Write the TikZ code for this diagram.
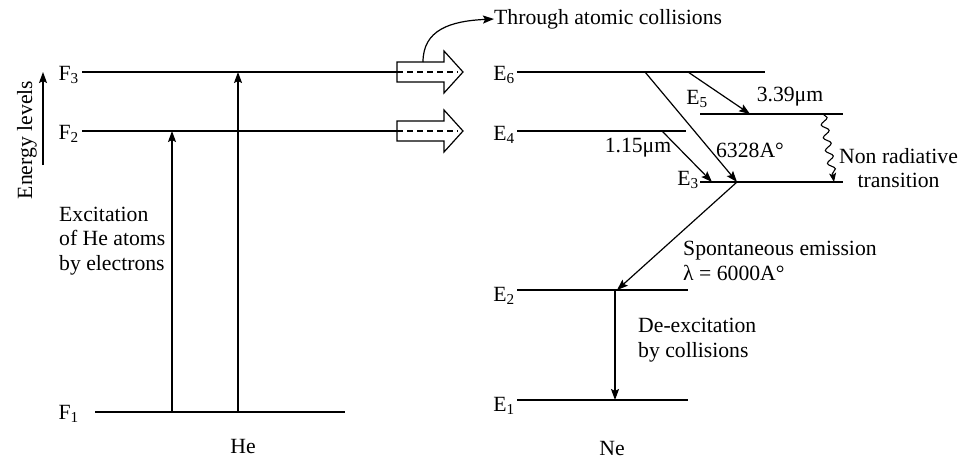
\documentclass[tikz,border=0pt]{standalone}
\usepackage{fontspec}
\setmainfont{Liberation Serif}
\usetikzlibrary{arrows.meta,decorations.pathmorphing}
\begin{document}
\begin{tikzpicture}[x=1pt,y=-1pt,
  lvl/.style={line width=1.3pt},
  arr/.style={line width=1.2pt,-{Stealth[length=11pt,width=8pt,inset=2pt]}},
  lab/.style={inner sep=0pt, font=\fontsize{21.7}{24.5}\selectfont},
  hollow/.style={line width=1.2pt, fill=white},
]
\useasboundingbox (0,0) rectangle (964,461);

% ---------- He side ----------
\coordinate (F3a) at (82,72);  \coordinate (F3b) at (397,72);
\coordinate (F2a) at (82,131); \coordinate (F2b) at (397,131);
\coordinate (F1a) at (95,412); \coordinate (F1b) at (345,412);
\draw[lvl] (F3a) -- (F3b);
\draw[lvl] (F2a) -- (F2b);
\draw[lvl] (F1a) -- (F1b);
\node[lab,anchor=east] (F3) at (79,75) {F\textsubscript{3}};
\node[lab,anchor=east] (F2) at (79,134) {F\textsubscript{2}};
\node[lab,anchor=east] (F1) at (79,414) {F\textsubscript{1}};

\coordinate (h1b) at (172,412); \coordinate (h1t) at (172,131);
\coordinate (h2b) at (238,412); \coordinate (h2t) at (238,72);
\draw[arr] (h1b) -- (h1t);
\draw[arr] (h2b) -- (h2t);

\node[lab,rotate=90] (EL) at (27,140) {Energy levels};
\coordinate (ela) at (43,165); \coordinate (elb) at (43,72);
\draw[arr] (ela) -- (elb);

\node[lab,anchor=west,align=left] (exc) at (59,241) {Excitation\\of He atoms\\by electrons};
\node[lab] (He) at (243,446) {He};

% ---------- hollow arrows ----------
\coordinate (HA1) at (397,72);
\coordinate (HA2) at (397,131);
\foreach \c in {HA1,HA2}{
  \draw[hollow] (\c) ++(0,-10) -- ++(47,0) -- ++(0,-11) -- ++(19,21) -- ++(-19,21) -- ++(0,-11) -- ++(-47,0) -- cycle;
  \draw[line width=1.2pt, dash pattern=on 6pt off 4pt] (\c) -- ++(61,0);
}
\node[lab,anchor=west] (thr) at (494,19) {Through atomic collisions};
\coordinate (cs) at (423,62);
\draw[line width=1.2pt,-{Stealth[length=11pt,width=8pt,inset=2pt]}] (cs) .. controls (423,30) and (450,21) .. (thr.west);

% ---------- Ne side ----------
\coordinate (E6a) at (517,72);  \coordinate (E6b) at (765,72);
\coordinate (E4a) at (517,131); \coordinate (E4b) at (686,131);
\coordinate (E5a) at (700,114); \coordinate (E5b) at (843,114);
\coordinate (E3a) at (700,182); \coordinate (E3b) at (843,182);
\coordinate (E2a) at (517,290); \coordinate (E2b) at (688,290);
\coordinate (E1a) at (517,400); \coordinate (E1b) at (688,400);
\foreach \a/\b in {E6a/E6b,E4a/E4b,E5a/E5b,E3a/E3b,E2a/E2b,E1a/E1b}
  \draw[lvl] (\a) -- (\b);
\node[lab,anchor=east] (E6) at (515,75) {E\textsubscript{6}};
\node[lab,anchor=east] (E4) at (515,135) {E\textsubscript{4}};
\node[lab] (E5) at (697,99) {E\textsubscript{5}};
\node[lab,anchor=east] (E3) at (699,180) {E\textsubscript{3}};
\node[lab,anchor=east] (E2) at (515,296) {E\textsubscript{2}};
\node[lab,anchor=east] (E1) at (515,406) {E\textsubscript{1}};

\coordinate (s65) at (688,72);  \coordinate (t65) at (750,114);
\coordinate (s63) at (645,72);  \coordinate (t63) at (737,182);
\coordinate (s43) at (662,131); \coordinate (t43) at (712,182);
\coordinate (t32) at (617,290);
\coordinate (s21) at (615,290); \coordinate (t21) at (615,400);
\draw[arr] (s65) -- (t65);
\draw[arr] (s63) -- (t63);
\draw[arr] (s43) -- (t43);
\draw[arr] (t63) -- (t32);
\draw[arr] (s21) -- (t21);

\coordinate (w1) at (823,114); \coordinate (w2) at (834,182);
\draw[line width=1.1pt, decorate,
  decoration={snake, amplitude=3.5pt, segment length=13pt, post length=6pt},
  -{Stealth[length=9pt,width=7pt,inset=2pt]}] (w1) -- (w2);

\node[lab] (l339) at (790,97) {3.39μm};
\node[lab] (l6328) at (750,150) {6328A°};
\node[lab] (l115) at (638,148) {1.15μm};
\node[lab,anchor=west,align=center] (nrt) at (839,168) {Non radiative\\transition};
\node[lab,anchor=west,align=left] (spont) at (683,261) {Spontaneous emission\\λ = 6000A°};
\node[lab,anchor=west,align=left] (dex) at (638,340) {De-excitation\\by collisions};
\node[lab] (Ne) at (612,448) {Ne};
\end{tikzpicture}
\end{document}
